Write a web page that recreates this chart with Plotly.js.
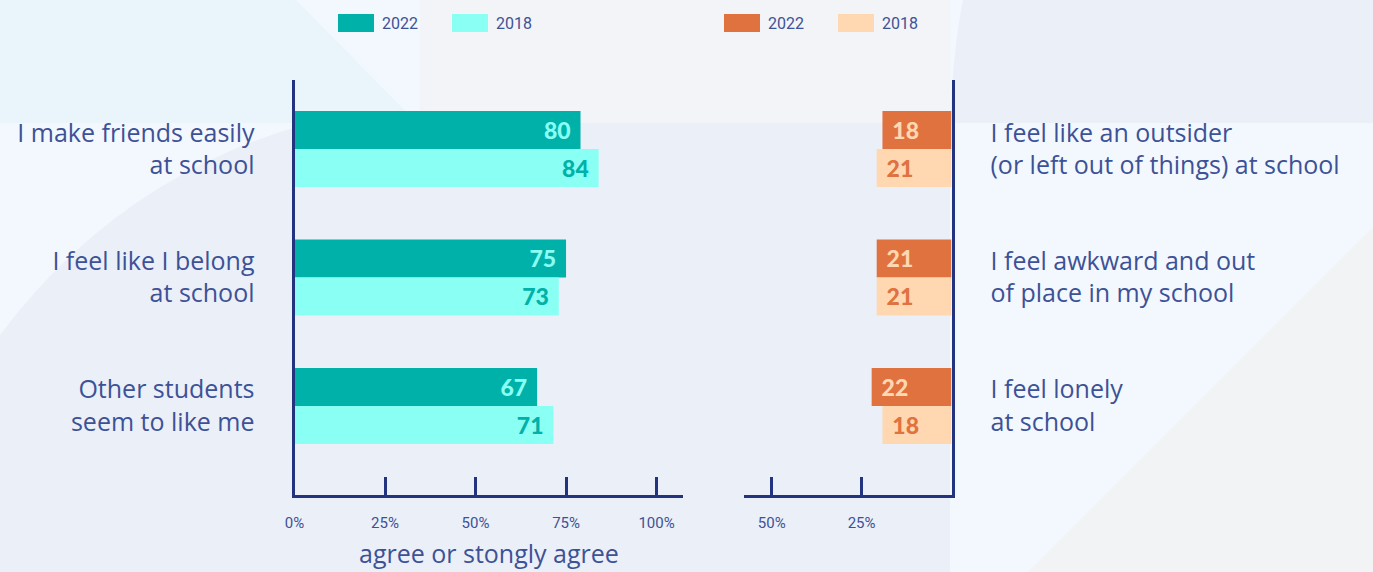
<!DOCTYPE html>
<html><head><meta charset="utf-8">
<script src="https://cdn.plot.ly/plotly-3.0.1.min.js"></script>
<style>html,body{margin:0;padding:0;background:#ebeff8;overflow:hidden}#chart{width:1373px;height:572px}</style>
</head><body><div id="chart"></div>
<script>
// ---- data ----
const years = ['2022', '2018'];
const positiveItems = ['I make friends easily<br>at school', 'I feel like I belong<br>at school', 'Other students<br>seem to like me'];
const negativeItems = ['I feel like an outsider<br>(or left out of things) at school', 'I feel awkward and out<br>of place in my school', 'I feel lonely<br>at school'];
const positive2022 = [79, 75, 67];
const positive2018 = [84, 73, 71.5];
const positive2022Labels = ['80', '75', '67'];
const positive2018Labels = ['84', '73', '71'];
const negative2022 = [19.2, 20.8, 22.2];
const negative2018 = [20.8, 20.8, 19.2];
const negative2022Labels = ['18', '21', '22'];
const negative2018Labels = ['21', '21', '18'];
const leftTickVals = [0, 25, 50, 75, 100];
const leftTickText = ['0%', '25%', '50%', '75%', '100%'];
const rightTickVals = [50, 25];
const rightTickText = ['50%', '25%'];
const xTitle = 'agree or stongly agree';

// ---- style ----
const W = 1373, H = 572;
const NAVY = '#22347f', TXT = '#3d5296';
const TEAL = '#00b1a9', CYAN = '#8afff4', ORANGE = '#e07240', PEACH = '#ffd7b1';
const catFont = {family: '"Open Sans", sans-serif', size: 25, color: TXT};
const titleFont = {family: '"Open Sans", sans-serif', size: 25, color: TXT};
const smallFont = {family: 'Roboto, sans-serif', size: 15, color: TXT};
const legFont = {family: 'Roboto, sans-serif', size: 16, color: TXT};
const barFont = (c) => ({family: 'Lato, sans-serif', size: 23, color: c, weight: 900});
const px = (x) => x / W, py = (y) => 1 - y / H;
const pos = positiveItems.map((_, i) => i);

function barTrace(vals, labels, color, textColor, xa, ya, name, lead) {
  return {
    type: 'bar', orientation: 'h', x: vals, y: pos, name: name,
    xaxis: xa, yaxis: ya, marker: {color: color, line: {width: 0}},
    text: labels, texttemplate: lead ? '\u00A0\u200A%{text}' : '%{text}\u200A\u00A0',
    textposition: 'inside', insidetextanchor: 'end', textangle: 0,
    insidetextfont: barFont(textColor), constraintext: 'none',
    hoverinfo: 'skip', showlegend: false
  };
}
const data = [
  barTrace(positive2022, positive2022Labels, TEAL, CYAN, 'x', 'y', years[0], false),
  barTrace(positive2018, positive2018Labels, CYAN, TEAL, 'x', 'y', years[1], false),
  barTrace(negative2022, negative2022Labels, ORANGE, PEACH, 'x2', 'y2', years[0], true),
  barTrace(negative2018, negative2018Labels, PEACH, ORANGE, 'x2', 'y2', years[1], true)
];

function path(pts) { return 'M' + pts.map(p => px(p[0]) + ',' + py(p[1])).join('L') + 'Z'; }
function rect(x0, y0, x1, y1, c) { return {type: 'rect', xref: 'paper', yref: 'paper', x0: px(x0), x1: px(x1), y0: py(y1), y1: py(y0), fillcolor: c, line: {width: 0}, layer: 'below'}; }
function poly(pts, c) { return {type: 'path', xref: 'paper', yref: 'paper', path: path(pts), fillcolor: c, line: {width: 0}, layer: 'below'}; }
function curve(d, c) { return {type: 'path', xref: 'paper', yref: 'paper', path: d, fillcolor: c, line: {width: 0}, layer: 'below'}; }
const P = (x, y) => px(x) + ',' + py(y);

const shapes = [
  rect(0, 0, 420, 123, '#eaf4fb'),
  poly([[296, 0], [420, 0], [420, 126]], '#f3f8fe'),
  rect(420, 0, 950, 123, '#f2f4f7'),
  rect(950, 0, 1373, 572, '#f3f8fe'),
  curve('M' + P(963, 0) + 'L' + P(1373, 0) + 'L' + P(1373, 123) + 'L' + P(950, 123) + 'Q' + P(953, 50) + ' ' + P(963, 0) + 'Z', '#ebeff8'),
  poly([[1373, 227], [1373, 572], [1028, 572]], '#f2f3f5'),
  curve('M' + P(0, 123) + 'L' + P(310, 123) + 'Q' + P(120, 175) + ' ' + P(0, 335) + 'Z', '#f3f8fe')
];

// manual legend swatches (36x18) and labels
const legendItems = [
  {x: 338, c: TEAL, t: years[0]}, {x: 452, c: CYAN, t: years[1]},
  {x: 724, c: ORANGE, t: years[0]}, {x: 838, c: PEACH, t: years[1]}
];
const annotations = [];
legendItems.forEach(it => {
  shapes.push({type: 'rect', xref: 'paper', yref: 'paper', x0: px(it.x), x1: px(it.x + 36), y0: py(32), y1: py(14), fillcolor: it.c, line: {width: 0}});
  annotations.push({xref: 'paper', yref: 'paper', x: px(it.x + 42), y: py(23), xanchor: 'left', yanchor: 'middle', text: it.t, showarrow: false, font: legFont});
});
annotations.push({xref: 'x domain', yref: 'paper', x: 0.5, y: py(553), xanchor: 'center', yanchor: 'middle', text: xTitle, showarrow: false, font: titleFont});

const yRange = [2.693, -0.537];
const layout = {
  width: W, height: H, margin: {l: 0, r: 0, t: 0, b: 0, pad: 0},
  paper_bgcolor: '#ebeff8', plot_bgcolor: 'rgba(0,0,0,0)',
  barmode: 'group', bargap: 0.409, bargroupgap: 0, showlegend: false,
  hovermode: false,
  xaxis: {domain: [px(294.5), px(683)], range: [0, 107.3], anchor: 'y', showgrid: false, zeroline: false,
    showline: true, linecolor: NAVY, linewidth: 3, ticks: 'inside', ticklen: 18, tickwidth: 3, tickcolor: NAVY,
    tickvals: leftTickVals, ticktext: leftTickText, tickfont: smallFont, ticklabelstandoff: 12, fixedrange: true},
  yaxis: {domain: [py(495), py(80)], range: yRange, anchor: 'x', showgrid: false, zeroline: false,
    showline: true, linecolor: NAVY, linewidth: 3, ticks: '', tickvals: pos, ticktext: positiveItems,
    tickfont: catFont, ticklabelstandoff: 32, fixedrange: true},
  xaxis2: {domain: [px(744), px(951.5)], range: [57.7, 0], anchor: 'y2', showgrid: false, zeroline: false,
    showline: true, linecolor: NAVY, linewidth: 3, ticks: 'inside', ticklen: 18, tickwidth: 3, tickcolor: NAVY,
    tickvals: rightTickVals, ticktext: rightTickText, tickfont: smallFont, ticklabelstandoff: 12, fixedrange: true},
  yaxis2: {domain: [py(495), py(80)], range: yRange, anchor: 'x2', side: 'right', showgrid: false, zeroline: false,
    showline: true, linecolor: NAVY, linewidth: 3, ticks: '', tickvals: pos, ticktext: negativeItems,
    tickfont: catFont, ticklabelstandoff: 31, fixedrange: true},
  shapes: shapes, annotations: annotations
};
Plotly.newPlot('chart', data, layout, {staticPlot: true, displayModeBar: false});
</script></body></html>
